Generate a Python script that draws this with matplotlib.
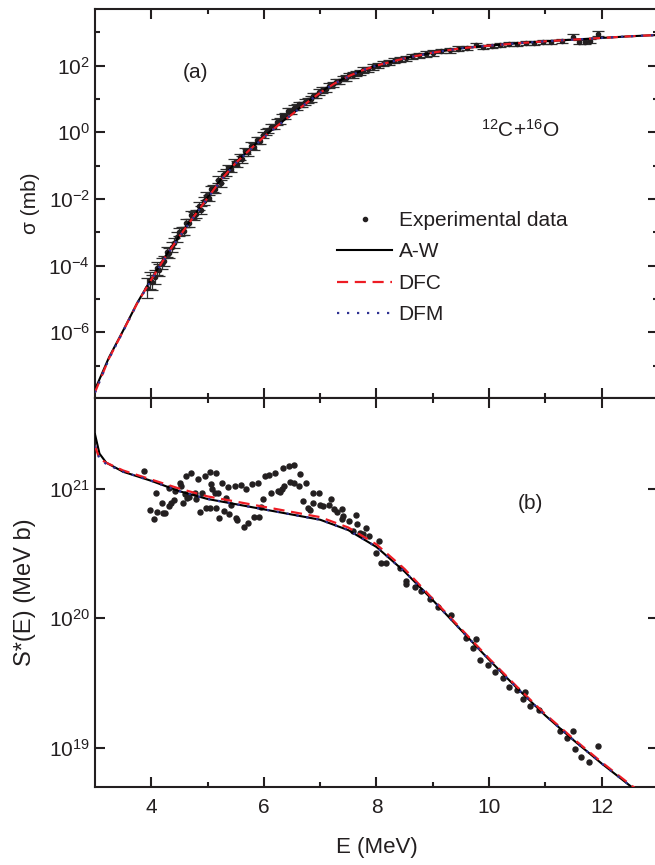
"""12C+16O fusion: cross section (a) and modified S-factor (b)."""
import matplotlib
matplotlib.use("Agg")
import matplotlib.pyplot as plt
import numpy as np
from matplotlib.lines import Line2D
from matplotlib.ticker import FixedLocator, NullLocator, NullFormatter, LogFormatterSciNotation

plt.rcParams["font.family"] = ["Liberation Sans", "DejaVu Sans"]
plt.rcParams["mathtext.fontset"] = "custom"
plt.rcParams["mathtext.rm"] = "Liberation Sans"
plt.rcParams["mathtext.it"] = "Liberation Sans:italic"

INK = "#231f20"
RED = "#ed1c24"
BLUE = "#2e3192"

# ---- panel (a): cross section, log10(sigma / mb) ----
e_curve = [3.0, 3.25, 3.5, 3.75, 4.0, 4.25, 4.5, 4.75, 5.0, 5.25, 5.5, 5.75, 6.0,
           6.25, 6.5, 6.75, 7.0, 7.25, 7.5, 7.75, 8.0, 8.5, 9.0, 9.5, 10.0, 10.5,
           11.0, 11.5, 12.0, 12.5, 13.0]
sig_aw = [-7.72, -6.75, -5.95, -5.12, -4.40, -3.72, -3.10, -2.52, -1.95, -1.38, -0.90,
          -0.50, -0.13, 0.22, 0.55, 0.88, 1.20, 1.47, 1.68, 1.86, 2.00, 2.22, 2.39,
          2.52, 2.60, 2.67, 2.73, 2.78, 2.83, 2.88, 2.92]
sig_dfc = [-7.80, -6.78, -5.96, -5.13, -4.42, -3.74, -3.12, -2.54, -1.97, -1.40, -0.92,
           -0.52, -0.14, 0.21, 0.54, 0.87, 1.19, 1.46, 1.68, 1.86, 2.00, 2.22, 2.39,
           2.52, 2.60, 2.67, 2.73, 2.78, 2.83, 2.88, 2.92]
sig_dfm = [-7.81, -6.79, -5.97, -5.14, -4.43, -3.75, -3.13, -2.55, -1.98, -1.41, -0.93,
           -0.53, -0.15, 0.20, 0.54, 0.87, 1.19, 1.46, 1.67, 1.86, 2.00, 2.22, 2.39,
           2.52, 2.60, 2.67, 2.73, 2.78, 2.83, 2.88, 2.92]

e_sig_exp = [3.92, 3.97, 4.02, 4.06, 4.10, 4.14, 4.19, 4.23, 4.28, 4.32, 4.36, 4.41,
             4.45, 4.50, 4.54, 4.58, 4.62, 4.67, 4.71, 4.76, 4.80, 4.84, 4.88, 4.93,
             4.97, 5.02, 5.06, 5.10, 5.14, 5.19, 5.23, 5.28, 5.33, 5.37, 5.42, 5.47,
             5.52, 5.57, 5.62, 5.67, 5.72, 5.78, 5.83, 5.88, 5.93, 5.98, 6.03, 6.08,
             6.13, 6.18, 6.23, 6.28, 6.33, 6.38, 6.43, 6.48, 6.53, 6.58, 6.63, 6.68,
             6.73, 6.78, 6.83, 6.88, 6.93, 6.98, 7.04, 7.10, 7.16, 7.22, 7.28, 7.34,
             7.40, 7.46, 7.52, 7.58, 7.64, 7.70, 7.76, 7.85, 7.94, 8.03, 8.12, 8.22,
             8.32, 8.42, 8.52, 8.64, 8.76, 8.88, 9.00, 9.15, 9.30, 9.45, 9.60, 9.77,
             9.90, 10.05, 10.20, 10.35, 10.50, 10.65, 10.80, 10.95, 11.10, 11.30,
             11.49, 11.60, 11.70, 11.80, 11.94]
sig_exp = [-4.68, -4.44, -4.50, -4.34, -4.08, -4.14, -3.93, -3.87, -3.60, -3.63, -3.43,
           -3.32, -3.14, -2.98, -2.96, -2.96, -2.72, -2.73, -2.49, -2.50, -2.46, -2.21,
           -2.32, -2.06, -1.92, -1.97, -1.71, -1.69, -1.71, -1.42, -1.53, -1.27, -1.21,
           -1.07, -1.10, -0.91, -0.95, -0.74, -0.81, -0.56, -0.60, -0.40, -0.43, -0.24,
           -0.25, -0.08, 0.01, 0.06, 0.17, 0.17, 0.31, 0.34, 0.48, 0.49, 0.64, 0.64,
           0.74, 0.76, 0.84, 0.84, 0.91, 0.96, 1.00, 1.10, 1.11, 1.21, 1.27, 1.29,
           1.40, 1.44, 1.52, 1.53, 1.62, 1.63, 1.71, 1.72, 1.77, 1.79, 1.87, 1.89,
           1.96, 2.00, 2.06, 2.09, 2.15, 2.18, 2.22, 2.28, 2.31, 2.35, 2.38, 2.44,
           2.46, 2.51, 2.53, 2.62, 2.57, 2.60, 2.61, 2.65, 2.66, 2.68, 2.68, 2.71,
           2.72, 2.74, 2.87, 2.71, 2.72, 2.73, 2.96]
sig_err = [0.30, 0.25, 0.22, 0.20, 0.20, 0.18, 0.16, 0.15, 0.15, 0.15, 0.15, 0.14,
           0.14, 0.12, 0.12, 0.12, 0.12, 0.12, 0.12, 0.12, 0.12, 0.12, 0.12, 0.12,
           0.12, 0.10, 0.10, 0.10, 0.10, 0.10, 0.10, 0.10, 0.10, 0.10, 0.10, 0.10,
           0.10, 0.10, 0.10, 0.10, 0.10, 0.10, 0.10, 0.10, 0.10, 0.10, 0.08, 0.08,
           0.08, 0.08, 0.08, 0.08, 0.08, 0.08, 0.08, 0.08, 0.08, 0.08, 0.08, 0.08,
           0.08, 0.08, 0.08, 0.08, 0.08, 0.08, 0.08, 0.08, 0.08, 0.08, 0.08, 0.08,
           0.08, 0.08, 0.08, 0.08, 0.08, 0.08, 0.08, 0.08, 0.08, 0.08, 0.08, 0.08,
           0.08, 0.08, 0.08, 0.08, 0.08, 0.08, 0.08, 0.07, 0.07, 0.07, 0.07, 0.07,
           0.06, 0.06, 0.06, 0.06, 0.06, 0.06, 0.06, 0.06, 0.06, 0.06, 0.07, 0.06,
           0.06, 0.06, 0.07]

# ---- panel (b): modified S-factor, log10(S* / MeV b) ----
e_s = [3.0, 3.08, 3.2, 3.5, 4.0, 4.5, 5.0, 5.5, 6.0, 6.5, 7.0, 7.5, 8.0, 8.5, 9.0,
       9.5, 10.0, 10.5, 11.0, 11.5, 12.0, 12.5, 13.0]
s_aw = [21.42, 21.27, 21.20, 21.13, 21.06, 20.98, 20.92, 20.88, 20.84, 20.80, 20.76,
        20.68, 20.55, 20.36, 20.14, 19.91, 19.68, 19.46, 19.25, 19.06, 18.88, 18.71,
        18.55]
s_dfc = [21.33, 21.23, 21.20, 21.14, 21.07, 21.00, 20.94, 20.90, 20.86, 20.82, 20.78,
         20.70, 20.57, 20.38, 20.15, 19.92, 19.69, 19.47, 19.26, 19.07, 18.89, 18.72,
         18.56]
s_dfm = [21.33, 21.23, 21.19, 21.13, 21.06, 20.98, 20.92, 20.88, 20.84, 20.80, 20.76,
         20.68, 20.55, 20.36, 20.14, 19.91, 19.68, 19.46, 19.25, 19.06, 18.88, 18.71,
         18.55]

e_s_exp = [3.865, 3.983, 4.042, 4.078, 4.101, 4.190, 4.208, 4.238, 4.309, 4.315,
           4.356, 4.398, 4.427, 4.504, 4.534, 4.563, 4.593, 4.611, 4.634, 4.670,
           4.711, 4.770, 4.800, 4.830, 4.871, 4.907, 4.948, 4.966, 5.037, 5.049,
           5.067, 5.084, 5.126, 5.143, 5.143, 5.185, 5.203, 5.262, 5.292, 5.333,
           5.363, 5.380, 5.422, 5.481, 5.499, 5.528, 5.588, 5.647, 5.688, 5.718,
           5.795, 5.818, 5.895, 5.907, 5.954, 5.984, 6.014, 6.091, 6.132, 6.203,
           6.251, 6.292, 6.328, 6.339, 6.351, 6.446, 6.458, 6.529, 6.535, 6.624,
           6.636, 6.695, 6.754, 6.784, 6.813, 6.872, 6.872, 6.979, 6.991, 7.050,
           7.151, 7.198, 7.239, 7.299, 7.393, 7.393, 7.405, 7.512, 7.583, 7.630,
           7.654, 7.701, 7.760, 7.820, 7.867, 7.997, 8.045, 8.086, 8.175, 8.412,
           8.530, 8.530, 8.678, 8.797, 8.944, 9.093, 9.329, 9.596, 9.714, 9.773,
           9.833, 9.981, 10.099, 10.247, 10.354, 10.496, 10.603, 10.632, 10.733,
           10.887, 11.254, 11.384, 11.491, 11.520, 11.639, 11.775, 11.935]
s_exp = [21.137, 20.833, 20.763, 20.964, 20.820, 20.892, 20.810, 20.810, 21.003,
         20.866, 20.892, 20.910, 20.982, 21.046, 21.021, 20.887, 20.956, 21.098,
         20.931, 20.938, 21.124, 20.964, 20.918, 21.077, 20.822, 20.969, 21.098,
         20.848, 21.131, 20.848, 21.034, 21.000, 20.969, 21.124, 20.848, 20.969,
         20.771, 21.046, 20.828, 20.931, 21.016, 20.802, 20.874, 21.021, 20.776,
         20.756, 21.028, 20.707, 21.000, 20.738, 21.039, 20.781, 21.046, 20.784,
         20.858, 20.923, 21.098, 21.103, 20.969, 21.124, 20.982, 20.974, 20.995,
         21.162, 21.021, 21.175, 21.052, 21.180, 21.046, 21.021, 21.111, 20.905,
         21.046, 20.853, 20.835, 20.964, 20.887, 20.964, 20.871, 20.866, 20.871,
         20.918, 20.840, 20.820, 20.846, 20.763, 20.789, 20.748, 20.672, 20.794,
         20.725, 20.655, 20.647, 20.699, 20.635, 20.505, 20.595, 20.428, 20.423,
         20.389, 20.286, 20.268, 20.243, 20.209, 20.145, 20.088, 20.029, 19.849,
         19.772, 19.841, 19.681, 19.638, 19.584, 19.540, 19.471, 19.445, 19.378,
         19.430, 19.327, 19.291, 19.129, 19.077, 19.129, 18.992, 18.931, 18.889,
         19.013]


def style_axis(ax):
    for side in ax.spines.values():
        side.set_linewidth(1.5)
        side.set_color(INK)
    ax.tick_params(which="both", direction="in", top=True, right=True,
                   color=INK, width=1.5, labelsize=15, labelcolor=INK)
    ax.tick_params(which="major", length=7)
    ax.tick_params(which="minor", length=3.5)
    ax.tick_params(axis="x", pad=8)
    ax.set_xlim(3, 13)
    ax.xaxis.set_major_locator(FixedLocator([4, 6, 8, 10, 12]))
    ax.xaxis.set_minor_locator(FixedLocator([5, 7, 9, 11]))


fig = plt.figure(figsize=(6.55, 8.65), dpi=100)
ax_a = fig.add_axes([0.145, 0.5399, 0.8595, 0.4497])
ax_b = fig.add_axes([0.145, 0.0902, 0.8595, 0.4497])

# panel (a)
e_c = np.array(e_curve)
sig_lin = np.power(10.0, np.array(sig_exp))
err = np.array(sig_err)
yerr = [sig_lin - sig_lin / np.power(10.0, err), sig_lin * np.power(10.0, err) - sig_lin]
ax_a.errorbar(e_sig_exp, sig_lin, yerr=yerr, fmt="o", ms=3, color=INK,
              ecolor="#2e2e2e", elinewidth=0.9, capsize=4.5, capthick=0.9, zorder=2)
ax_a.plot(e_c, np.power(10.0, sig_aw), color="black", lw=1.5, zorder=3)
ax_a.plot(e_c, np.power(10.0, sig_dfc), color=RED, lw=1.6, dashes=(5, 3), zorder=4)
ax_a.plot(e_c, np.power(10.0, sig_dfm), color=BLUE, lw=1.6, dashes=(1, 3.5), zorder=5)
ax_a.set_yscale("log")
ax_a.set_ylim(1.07e-8, 5.0e3)
ax_a.yaxis.set_major_locator(FixedLocator([1e-6, 1e-4, 1e-2, 1e0, 1e2]))
ax_a.yaxis.set_minor_locator(FixedLocator([1e-7, 1e-5, 1e-3, 1e-1, 1e1, 1e3]))
ax_a.yaxis.set_major_formatter(LogFormatterSciNotation())
ax_a.yaxis.set_minor_formatter(NullFormatter())
style_axis(ax_a)
ax_a.tick_params(labelbottom=False)
ax_a.set_ylabel("σ (mb)", fontsize=15, color=INK, labelpad=6)
ax_a.text(0.178, 0.838, "(a)", transform=ax_a.transAxes, fontsize=15,
          ha="center", va="center", color=INK)
ax_a.text(0.755, 0.689, r"$^{12}$C+$^{16}$O", transform=ax_a.transAxes, fontsize=15,
          ha="center", va="center", color=INK)

handles = [
    Line2D([], [], ls="none", marker="o", ms=3, color=INK),
    Line2D([], [], color="black", lw=1.5),
    Line2D([], [], color=RED, lw=1.6, dashes=(5, 3)),
    Line2D([], [], color=BLUE, lw=1.6, dashes=(1, 3.5)),
]
ax_a.legend(handles, ["Experimental data", "A-W", "DFC", "DFM"], loc="center left",
            bbox_to_anchor=(0.397, 0.335), frameon=False, fontsize=15,
            handlelength=2.65, handletextpad=0.3, labelspacing=0.6, borderpad=0.4,
            labelcolor=INK)

# panel (b)
e_sb = np.array(e_s)
ax_b.plot(e_s_exp, np.power(10.0, s_exp), "o", ms=3.6, color=INK, zorder=2)
ax_b.plot(e_sb, np.power(10.0, s_aw), color="black", lw=1.5, zorder=3)
ax_b.plot(e_sb, np.power(10.0, s_dfc), color=RED, lw=1.6, dashes=(5, 3), zorder=4)
ax_b.plot(e_sb, np.power(10.0, s_dfm), color=BLUE, lw=1.6, dashes=(1, 3.5), zorder=5)
ax_b.set_yscale("log")
ax_b.set_ylim(5.0e18, 5.0e21)
ax_b.yaxis.set_major_locator(FixedLocator([1e19, 1e20, 1e21]))
ax_b.yaxis.set_minor_locator(NullLocator())
ax_b.yaxis.set_major_formatter(LogFormatterSciNotation())
style_axis(ax_b)
ax_b.set_ylabel("S*(E) (MeV b)", fontsize=17, color=INK, labelpad=9)
ax_b.set_xlabel("E (MeV)", fontsize=16, color=INK, labelpad=14)
ax_b.text(0.773, 0.73, "(b)", transform=ax_b.transAxes, fontsize=15,
          ha="center", va="center", color=INK)

fig.savefig("out.png", dpi=100)
plt.close(fig)
